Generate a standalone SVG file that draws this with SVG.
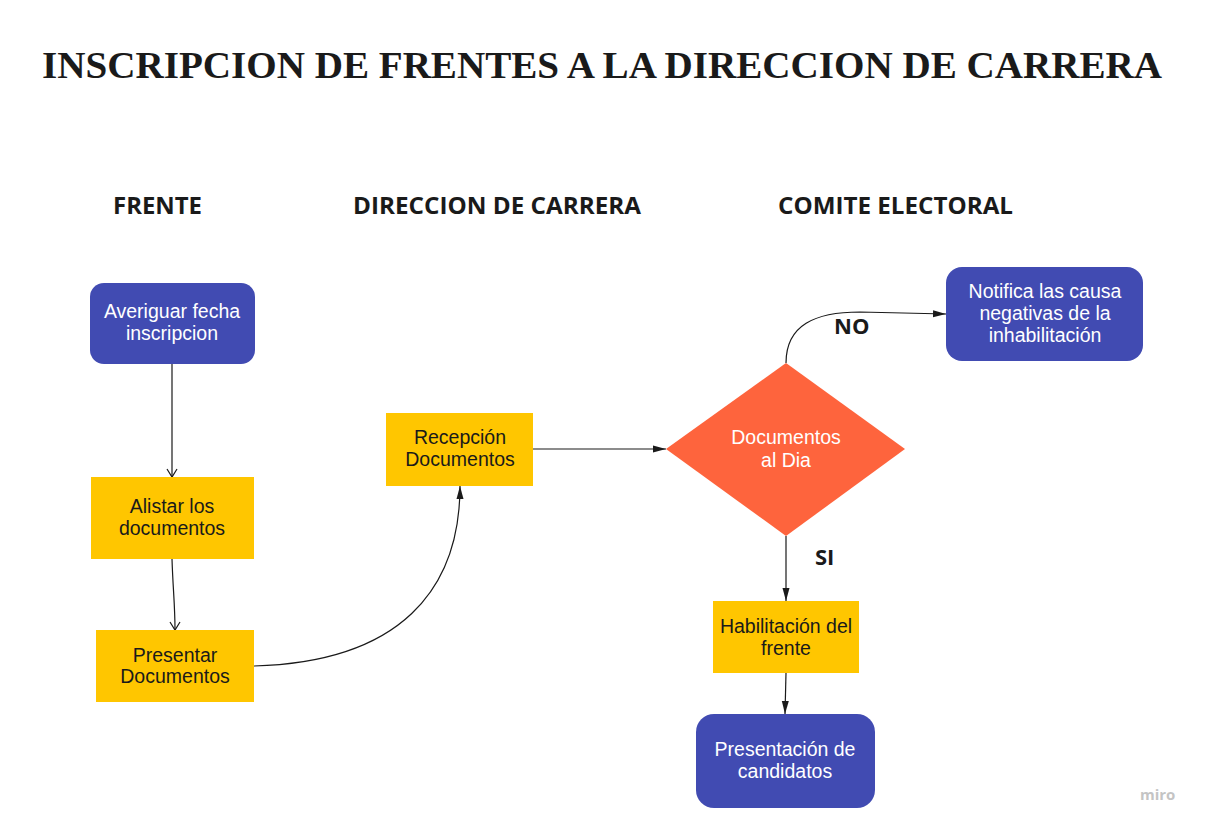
<svg xmlns="http://www.w3.org/2000/svg" width="1206" height="829" viewBox="0 0 1206 829">
<style>
.title{font-family:"Liberation Serif",serif;font-weight:bold;font-size:38px;fill:#1a1a1a}
.lane{font-family:"Open Sans","Liberation Sans",sans-serif;font-weight:bold;font-size:24px;fill:#1a1a1a}
.lbl{font-family:"Open Sans","Liberation Sans",sans-serif;font-weight:bold;font-size:22px;fill:#1a1a1a}
.t{font-family:"Liberation Sans",Arial,sans-serif;font-size:19.5px;text-anchor:middle}
.w{fill:#ffffff}
.d{fill:#1a1a1a}
.blue{fill:#414bb2}
.yel{fill:#ffc600}
.dia{fill:#fe643d}
.c{fill:none;stroke:#1a1a1a;stroke-width:1.2}
</style>
<defs>
<marker id="open" viewBox="0 0 12 12" refX="10" refY="6" markerWidth="12" markerHeight="12" markerUnits="userSpaceOnUse" orient="auto">
<path d="M2,1 L10,6 L2,11" fill="none" stroke="#1a1a1a" stroke-width="1.2"/>
</marker>
<marker id="fill" viewBox="0 0 14 10" refX="13" refY="5" markerWidth="14" markerHeight="10" markerUnits="userSpaceOnUse" orient="auto">
<path d="M0,1.5 L13,5 L0,8.5 Z" fill="#1a1a1a"/>
</marker>
</defs>
<rect width="1206" height="829" fill="#ffffff"/>
<text class="title" x="602" y="78" text-anchor="middle" textLength="1120" lengthAdjust="spacingAndGlyphs">INSCRIPCION DE FRENTES A LA DIRECCION DE CARRERA</text>
<text class="lane" x="113" y="214" textLength="89" lengthAdjust="spacingAndGlyphs">FRENTE</text>
<text class="lane" x="353" y="214" textLength="288" lengthAdjust="spacingAndGlyphs">DIRECCION DE CARRERA</text>
<text class="lane" x="778" y="214" textLength="235" lengthAdjust="spacingAndGlyphs">COMITE ELECTORAL</text>

<g id="connectors">
<path class="c" d="M172,364 L172,477" marker-end="url(#open)"/>
<path class="c" d="M172,559 C173,590 175,605 175,630" marker-end="url(#open)"/>
<path class="c" d="M254,666 C400,662 460,590 460,486" marker-end="url(#fill)"/>
<path class="c" d="M533,449 L666,449" marker-end="url(#fill)"/>
<path class="c" d="M786,363 C786,325 815,312 860,312 L946,314" marker-end="url(#fill)"/>
<path class="c" d="M786,536 L786,601" marker-end="url(#fill)"/>
<path class="c" d="M786,673 L785,714" marker-end="url(#fill)"/>
<text class="lbl" x="834" y="334">NO</text>
<text class="lbl" x="815" y="565">SI</text>
</g>

<g id="n1">
<rect class="blue" x="90" y="283" width="165" height="81" rx="14"/>
<text class="t w" x="172" y="318">Averiguar fecha</text>
<text class="t w" x="172" y="340">inscripcion</text>
</g>
<g id="n2">
<rect class="yel" x="91" y="477" width="163" height="82"/>
<text class="t d" x="172" y="513">Alistar los</text>
<text class="t d" x="172" y="535">documentos</text>
</g>
<g id="n3">
<rect class="yel" x="96" y="630" width="158" height="72"/>
<text class="t d" x="175" y="662">Presentar</text>
<text class="t d" x="175" y="683">Documentos</text>
</g>
<g id="n4">
<rect class="yel" x="386" y="413" width="147" height="73"/>
<text class="t d" x="460" y="444">Recepción</text>
<text class="t d" x="460" y="466">Documentos</text>
</g>
<g id="n5">
<polygon class="dia" points="666,449 786,363 905,449 786,536"/>
<text class="t w" x="786" y="444">Documentos</text>
<text class="t w" x="786" y="467">al Dia</text>
</g>
<g id="n6">
<rect class="blue" x="946" y="267" width="197" height="94" rx="16"/>
<text class="t w" x="1045" y="298">Notifica las causa</text>
<text class="t w" x="1045" y="320">negativas de la</text>
<text class="t w" x="1045" y="342">inhabilitación</text>
</g>
<g id="n7">
<rect class="yel" x="713" y="601" width="146" height="72"/>
<text class="t d" x="786" y="633">Habilitación del</text>
<text class="t d" x="786" y="655">frente</text>
</g>
<g id="n8">
<rect class="blue" x="696" y="714" width="179" height="94" rx="18"/>
<text class="t w" x="785" y="756">Presentación de</text>
<text class="t w" x="785" y="778">candidatos</text>
</g>
<text x="1140" y="800" font-family="'Open Sans','Liberation Sans',sans-serif" font-size="15" fill="#c4c4c4" font-weight="bold">miro</text>
</svg>
